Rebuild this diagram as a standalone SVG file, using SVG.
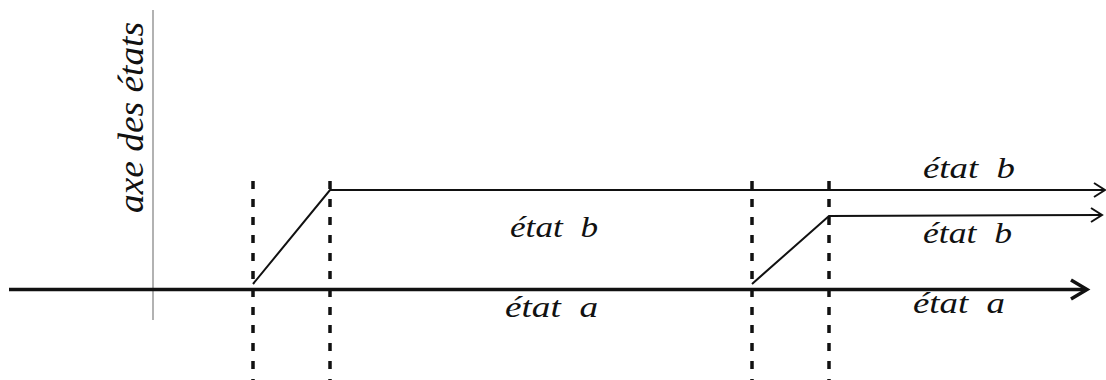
<svg xmlns="http://www.w3.org/2000/svg" width="1106" height="380" viewBox="0 0 1106 380">
<style>
.lbl{font-family:"Liberation Serif","Times New Roman",serif;font-style:italic;font-size:30px;fill:#111;white-space:pre}
.dash{stroke:#111;stroke-width:3.5;stroke-dasharray:8 10;fill:none}
.thin{stroke:#111;stroke-width:2;fill:none}
</style>
<rect width="1106" height="380" fill="#fff"/>
<g id="axis">
<line x1="153" y1="10" x2="153" y2="320" stroke="#999" stroke-width="1.5"/>
<text class="lbl" style="font-size:36px" transform="translate(143,213) rotate(-90)" textLength="191" lengthAdjust="spacingAndGlyphs">axe des états</text>
</g>
<g id="connectors">
<line class="dash" x1="253" y1="181" x2="253" y2="380"/>
<line class="dash" x1="330" y1="181" x2="330" y2="380"/>
<line class="dash" x1="752" y1="181" x2="752" y2="380"/>
<line class="dash" x1="829" y1="181" x2="829" y2="380"/>
<line x1="9" y1="289.5" x2="1085" y2="289.5" stroke="#111" stroke-width="3.5"/>
<polyline points="1071,280 1087,289.5 1071,299" fill="none" stroke="#111" stroke-width="3.5"/>
<polyline class="thin" points="253,284 330,190 1104,190"/>
<polyline class="thin" points="1094,183 1105,190 1094,197"/>
<polyline class="thin" points="752,284 829,216 1101,215"/>
<polyline class="thin" points="1091,208 1102,215 1091,222"/>
</g>
<g id="labels">
<text class="lbl" x="510" y="237" textLength="88" lengthAdjust="spacingAndGlyphs">état  b</text>
<text class="lbl" x="505" y="317" textLength="93" lengthAdjust="spacingAndGlyphs">état  a</text>
<text class="lbl" x="923" y="178" textLength="92" lengthAdjust="spacingAndGlyphs">état  b</text>
<text class="lbl" x="923" y="243" textLength="89" lengthAdjust="spacingAndGlyphs">état  b</text>
<text class="lbl" x="913" y="313" textLength="92" lengthAdjust="spacingAndGlyphs">état  a</text>
</g>
</svg>
